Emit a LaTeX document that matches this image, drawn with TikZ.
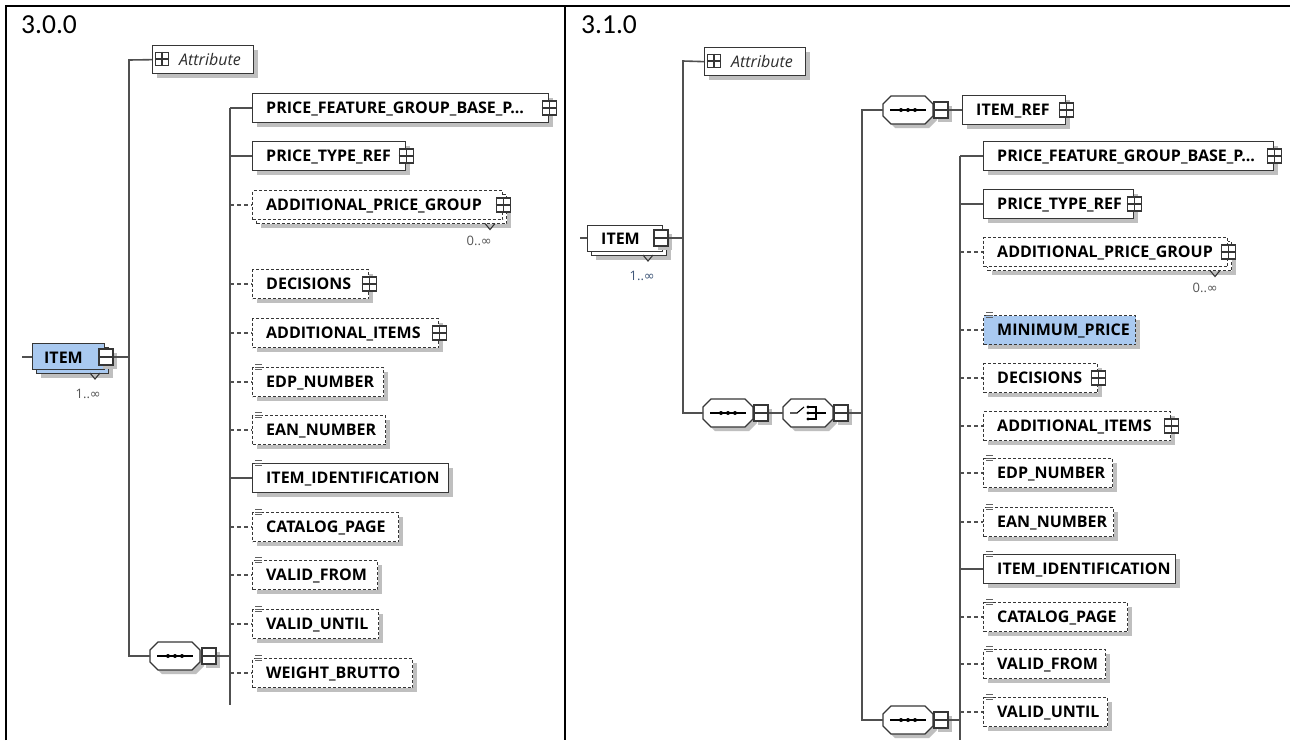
\documentclass[tikz,border=0pt]{standalone}
\usepackage{fontspec}
\setmainfont{Open Sans}
\newfontfamily\headfont{Carlito}
\newfontfamily\symfont{DejaVu Sans}
\usetikzlibrary{shadows,calc}

\definecolor{boxcol}{HTML}{363636}
\definecolor{lncol}{HTML}{505050}
\definecolor{shadowcol}{HTML}{BFBFBF}
\definecolor{bluefill}{HTML}{A9C9F0}
\definecolor{multgray}{HTML}{555555}
\definecolor{multblue}{HTML}{3E5678}
\definecolor{attrtext}{HTML}{2E2E2E}
\definecolor{icongray}{HTML}{606060}

\tikzset{
  conn/.style={draw=lncol, line width=1.6pt},
  optconn/.style={conn, dash pattern=on 4pt off 3pt},
  shade box/.style={drop shadow={shadow xshift=4pt, shadow yshift=-4pt, fill=shadowcol, opacity=1}},
  boxbase/.style={draw=boxcol, line width=1.3pt, fill=white, inner sep=0pt},
  dashbase/.style={boxbase, dash pattern=on 3pt off 2pt},
  reqbox/.style={boxbase, shade box},
  optbox/.style={dashbase, shade box},
  bluebox/.style={optbox, fill=bluefill},
  lbl/.style={inner sep=0pt, font=\fontsize{16}{19}\selectfont\bfseries, text=black},
  attrlbl/.style={inner sep=0pt, font=\fontsize{16}{19}\selectfont\itshape, text=attrtext},
  mult/.style={inner sep=0pt, font=\fontsize{13}{15}\selectfont, text=multgray},
  head/.style={inner sep=0pt, font=\headfont\fontsize{27.5}{32}\selectfont},
  sqicon/.style={draw=boxcol, fill=white, line width=1.2pt, minimum size=14pt, inner sep=0pt},
  minusicon/.style={draw=boxcol, fill=white, line width=1.3pt, minimum width=14pt, minimum height=16pt, inner sep=0pt, shade box},
  iconline/.style={draw=boxcol, line width=1.2pt},
}

% element box with its bold name; #1 name, #2 left x, #3 right x, #4 centre y, #5 style, #6 text
\newcommand\schemaelem[6]{%
  \node[#5, minimum width={#3-#2}, minimum height=29pt, anchor=west] (#1) at (#2,#4) {};
  \node[lbl, anchor=base west] (#1-t) at ([xshift=14pt,yshift=-5.6pt]#1.west) {#6};}

% expand square on the right edge of an element
\newcommand\expandmark[1]{%
  \node[sqicon] (#1-p) at (#1.east) {};
  \draw[iconline] (#1-p.north) -- (#1-p.south) (#1-p.west) -- (#1-p.east);}

% small simple-content mark at the top left corner of an element
\newcommand\simplemark[1]{%
  \draw[icongray, line width=1pt] ([shift={(3,-2)}]#1.north west) -- ++(7,0)
    ++(-7,2.3) -- ++(7,0) ++(-7,2.3) -- ++(7,0);}

% collapse square; #1 name, #2 centre
\newcommand\collapsemark[2]{%
  \node[minusicon] (#1) at (#2) {};
  \draw[iconline] ([xshift=0.5pt]#1.west) -- ([xshift=-0.5pt]#1.east);}

% occurrence notch under a box; #1 x, #2 y of box bottom
\newcommand\notchmark[2]{%
  \draw[boxcol, line width=1.1pt] ({#1-5},#2) -- (#1,{#2+6}) -- ({#1+5},#2);}

% octagonal compositor outline
\newcommand\octpath[2]{({#1},{#2-6}) -- ({#1+8},{#2-14}) -- ({#1+42},{#2-14}) -- ({#1+50},{#2-6})
  -- ({#1+50},{#2+6}) -- ({#1+42},{#2+14}) -- ({#1+8},{#2+14}) -- ({#1},{#2+6}) -- cycle}

% compositor; #1 name, #2 left x, #3 centre y
\newcommand\compositor[3]{%
  \fill[shadowcol] \octpath{#2+4}{#3+4};
  \draw[boxcol, line width=1.3pt, fill=white] \octpath{#2}{#3};
  \node[inner sep=0pt, minimum width=50pt, minimum height=28pt, anchor=west] (#1) at (#2,#3) {};}

\newcommand\seqmark[2]{%
  \draw[black, line width=1.1pt] ({#1+7},#2) -- ({#1+43},#2);
  \fill[black] ({#1+18},#2) circle (2pt) ({#1+25},#2) circle (2pt) ({#1+32},#2) circle (2pt);}

\newcommand\choicemark[2]{%
  \draw[black, line width=1.1pt] ({#1+7},#2) -- ({#1+14},#2) -- ({#1+21},{#2-6});
  \fill[black] ({#1+25},{#2-6}) circle (1.7pt) ({#1+25},#2) circle (1.7pt) ({#1+25},{#2+6}) circle (1.7pt);
  \draw[black, line width=1.1pt] ({#1+25},{#2-6}) -- ({#1+33},{#2-6}) -- ({#1+33},{#2+6}) -- ({#1+25},{#2+6})
    ({#1+25},#2) -- ({#1+43},#2);}

\begin{document}
\begin{tikzpicture}[x=1pt, y=-1pt]
\useasboundingbox (0,0) rectangle (1290,740);
\fill[white] (0,0) rectangle (1290,740);

% table rules
\draw[line width=2pt] (6,740) -- (6,6) -- (1290,6);
\draw[line width=2pt] (565,6) -- (565,740);

\node[head, anchor=base west] (hL) at (21,33) {3.0.0};
\node[head, anchor=base west] (hR) at (581,33) {3.1.0};

% ================= version 3.0.0 =================
\node[boxbase, fill=bluefill, shade box, minimum width=72pt, minimum height=26pt, anchor=north west] (itemL-b) at (36,347) {};
\node[boxbase, fill=bluefill, minimum width=72pt, minimum height=26pt, anchor=north west] (itemL) at (32,343) {};
\node[lbl, anchor=base west] (itemL-t) at (44,363.5) {ITEM};
\collapsemark{itemL-m}{106,357}
\notchmark{95}{373}
\node[mult, anchor=base east] (itemL-n) at (101,398) {1..{\symfont ∞}};

\node[reqbox, minimum width=101pt, minimum height=28pt, anchor=north west] (attrL) at (152,45) {};
\node[sqicon, minimum size=13pt] (attrL-p) at (162,59) {};
\draw[iconline] (attrL-p.north) -- (attrL-p.south) (attrL-p.west) -- (attrL-p.east);
\node[attrlbl, anchor=base west] (attrL-t) at (179,65) {Attribute};

\compositor{seqL}{150}{656}
\seqmark{150}{656}
\collapsemark{seqL-m}{209,656}

\schemaelem{pfL}{252}{548}{108}{reqbox}{PRICE\_FEATURE\_GROUP\_BASE\_P...}
\expandmark{pfL}
\schemaelem{ptL}{252}{405}{156}{reqbox}{PRICE\_TYPE\_REF}
\expandmark{ptL}
\node[optbox, minimum width=250pt, minimum height=29pt, anchor=west] (apgL-b) at (256,209) {};
\schemaelem{apgL}{252}{502}{205}{dashbase}{ADDITIONAL\_PRICE\_GROUP}
\expandmark{apgL}
\notchmark{490}{223.5}
\node[mult, anchor=base east] (apgL-n) at (492,245) {0..{\symfont ∞}};
\schemaelem{decL}{252}{368}{284}{optbox}{DECISIONS}
\expandmark{decL}
\schemaelem{aiL}{252}{438}{333}{optbox}{ADDITIONAL\_ITEMS}
\expandmark{aiL}
\schemaelem{edpL}{252}{383}{382}{optbox}{EDP\_NUMBER}
\simplemark{edpL}
\schemaelem{eanL}{252}{385}{430}{optbox}{EAN\_NUMBER}
\simplemark{eanL}
\schemaelem{iidL}{252}{448}{478}{reqbox}{ITEM\_IDENTIFICATION}
\simplemark{iidL}
\schemaelem{cpL}{252}{398}{527}{optbox}{CATALOG\_PAGE}
\simplemark{cpL}
\schemaelem{vfL}{252}{377}{575}{optbox}{VALID\_FROM}
\simplemark{vfL}
\schemaelem{vuL}{252}{378}{624}{optbox}{VALID\_UNTIL}
\simplemark{vuL}
\schemaelem{wbL}{252}{412}{673}{optbox}{WEIGHT\_BRUTTO}
\simplemark{wbL}

\coordinate (inL) at (22,357);
\coordinate (tL1) at (129,60);
\coordinate (tL2) at (230,108);
\coordinate (tL2end) at (230,705);
\draw[conn] (inL) -- (itemL.west |- inL);
\draw[conn] (attrL.west) -- (tL1) |- (seqL.west);
\draw[conn] (itemL-m.east) -- (itemL-m.east -| tL1);
\draw[conn] (tL2) -- (tL2end);
\draw[conn] (seqL-m.east) -- (seqL-m.east -| tL2);
\foreach \n in {pfL,ptL,iidL} \draw[conn] (\n.west -| tL2) -- (\n.west);
\foreach \n in {apgL,decL,aiL,edpL,eanL,cpL,vfL,vuL,wbL} \draw[optconn] (\n.west -| tL2) -- (\n.west);

% ================= version 3.1.0 =================
\node[boxbase, shade box, minimum width=75pt, minimum height=26pt, anchor=north west] (itemR-b) at (591,229) {};
\node[boxbase, minimum width=75pt, minimum height=26pt, anchor=north west] (itemR) at (587,225) {};
\node[lbl, anchor=base west] (itemR-t) at (601,244) {ITEM};
\collapsemark{itemR-m}{661,238}
\notchmark{648}{255}
\node[mult, text=multblue, anchor=base east] (itemR-n) at (655,280) {1..{\symfont ∞}};

\node[reqbox, minimum width=101pt, minimum height=28pt, anchor=north west] (attrR) at (704,47) {};
\node[sqicon, minimum size=13pt] (attrR-p) at (714,61) {};
\draw[iconline] (attrR-p.north) -- (attrR-p.south) (attrR-p.west) -- (attrR-p.east);
\node[attrlbl, anchor=base west] (attrR-t) at (731,67) {Attribute};

\compositor{seqM}{703}{413}
\seqmark{703}{413}
\collapsemark{seqM-m}{761,413}
\compositor{chM}{783}{413}
\choicemark{783}{413}
\collapsemark{chM-m}{841,413}

\compositor{seqT}{883}{110}
\seqmark{883}{110}
\collapsemark{seqT-m}{941,110}
\schemaelem{irR}{962}{1065}{110}{reqbox}{ITEM\_REF}
\expandmark{irR}

\compositor{seqB}{883}{720}
\seqmark{883}{720}
\collapsemark{seqB-m}{941,720}

\schemaelem{pfR}{983}{1273}{156}{reqbox}{PRICE\_FEATURE\_GROUP\_BASE\_P...}
\expandmark{pfR}
\schemaelem{ptR}{983}{1133}{204}{reqbox}{PRICE\_TYPE\_REF}
\expandmark{ptR}
\node[optbox, minimum width=244pt, minimum height=29pt, anchor=west] (apgR-b) at (987,256) {};
\schemaelem{apgR}{983}{1227}{252}{dashbase}{ADDITIONAL\_PRICE\_GROUP}
\expandmark{apgR}
\notchmark{1215}{270.5}
\node[mult, anchor=base east] (apgR-n) at (1218,292) {0..{\symfont ∞}};
\schemaelem{mpR}{983}{1135}{330}{bluebox}{MINIMUM\_PRICE}
\simplemark{mpR}
\schemaelem{decR}{983}{1097}{378}{optbox}{DECISIONS}
\expandmark{decR}
\schemaelem{aiR}{983}{1170}{426}{optbox}{ADDITIONAL\_ITEMS}
\expandmark{aiR}
\schemaelem{edpR}{983}{1112}{473}{optbox}{EDP\_NUMBER}
\simplemark{edpR}
\schemaelem{eanR}{983}{1113}{522}{optbox}{EAN\_NUMBER}
\simplemark{eanR}
\schemaelem{iidR}{983}{1175}{569}{reqbox}{ITEM\_IDENTIFICATION}
\simplemark{iidR}
\schemaelem{cpR}{983}{1127}{617}{optbox}{CATALOG\_PAGE}
\simplemark{cpR}
\schemaelem{vfR}{983}{1105}{664}{optbox}{VALID\_FROM}
\simplemark{vfR}
\schemaelem{vuR}{983}{1107}{712}{optbox}{VALID\_UNTIL}
\simplemark{vuR}

\coordinate (inR) at (580,238);
\coordinate (tR1) at (683,61);
\coordinate (tR2) at (862,110);
\coordinate (tR3) at (960,156);
\coordinate (tR3end) at (960,740);
\draw[conn] (inR) -- (itemR.west |- inR);
\draw[conn] (attrR.west) -- (tR1) |- (seqM.west);
\draw[conn] (itemR-m.east) -- (itemR-m.east -| tR1);
\draw[conn] (seqM-m.east) -- (chM.west);
\draw[conn] (seqT.west) -- (tR2) |- (seqB.west);
\draw[conn] (chM-m.east) -- (chM-m.east -| tR2);
\draw[conn] (seqT-m.east) -- (irR.west);
\draw[conn] (tR3) -- (tR3end);
\draw[conn] (seqB-m.east) -- (seqB-m.east -| tR3);
\foreach \n in {pfR,ptR,iidR} \draw[conn] (\n.west -| tR3) -- (\n.west);
\foreach \n in {apgR,mpR,decR,aiR,edpR,eanR,cpR,vfR,vuR} \draw[optconn] (\n.west -| tR3) -- (\n.west);
\end{tikzpicture}
\end{document}
